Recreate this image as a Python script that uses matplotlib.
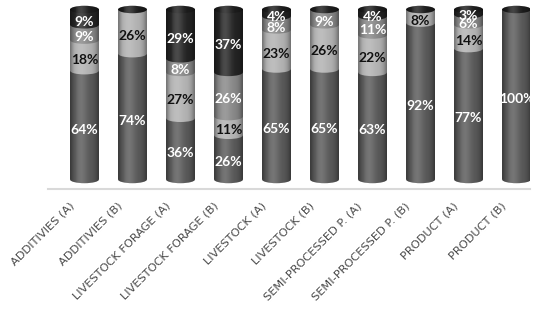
import numpy as np
import matplotlib
matplotlib.use("Agg")
import matplotlib.pyplot as plt
from matplotlib.patches import Ellipse, PathPatch
from matplotlib.path import Path
from matplotlib.transforms import ScaledTranslation

# ----- Data -----
categories = ["ADDITIVIES (A)", "ADDITIVIES (B)", "LIVESTOCK FORAGE (A)",
              "LIVESTOCK FORAGE (B)", "LIVESTOCK (A)", "LIVESTOCK (B)",
              "SEMI-PROCESSED P. (A)", "SEMI-PROCESSED P. (B)",
              "PRODUCT (A)", "PRODUCT (B)"]
s1 = [64, 74, 36, 26, 65, 65, 63, 92, 77, 100]
s2 = [18, 26, 27, 11, 23, 26, 22, 8, 14, 0]
s3 = [9, 0, 8, 26, 8, 9, 11, 0, 6, 0]
s4 = [9, 0, 29, 37, 4, 0, 4, 0, 3, 0]

series = [s1, s2, s3, s4]
colors = ["#585858", "#b0b0b0", "#868686", "#242424"]
text_colors = ["white", "#111111", "white", "white"]
cap_color = "#1c1c1c"

plt.rcParams["font.family"] = ["Lato", "DejaVu Sans"]

# ----- Figure -----
fig = plt.figure(figsize=(5.36, 3.19), dpi=100)
ax = fig.add_axes([48 / 536, 130 / 319, 482 / 536, 188 / 319])
ax.set_xlim(-0.76, 9.28)
ax.set_ylim(-5.6, 105)

w = 0.6        # bar width
eh = 4.4       # ellipse height (data units)
x = np.arange(len(categories))

# shading strip for the cylinder look
n = 64
u = np.linspace(-1, 1, n)
shade = 0.18 * np.exp(-((u + 0.25) / 0.45) ** 2) - 0.4 * np.abs(u) ** 4
grad = np.zeros((1, n, 4))
grad[0, :, :3] = np.where(shade[:, None] > 0, 1.0, 0.0)
grad[0, :, 3] = np.clip(np.abs(shade), 0, 1)

for i in range(len(categories)):
    bottom = 0
    z = 2
    for k, s in enumerate(series):
        v = s[i]
        if v == 0:
            continue
        ax.bar(x[i], v, w, bottom=bottom, color=colors[k], linewidth=0, zorder=z)
        ax.add_patch(Ellipse((x[i], bottom), w, eh, color=colors[k], lw=0, zorder=z))
        ax.text(x[i], bottom + v / 2 - 2.6, f"{v}%", ha="center", va="center",
                fontsize=10, fontweight="bold", color=text_colors[k], zorder=20)
        bottom += v
        z += 1
    ax.add_patch(Ellipse((x[i], bottom), w, eh, color=cap_color, lw=0, zorder=z))

    # cylinder outline used to clip the shading
    t = np.linspace(np.pi, 0, 40)
    top_x = x[i] + w / 2 * np.cos(t)
    top_y = bottom + eh / 2 * np.sin(t)
    t2 = np.linspace(0, -np.pi, 40)
    bot_x = x[i] + w / 2 * np.cos(t2)
    bot_y = eh / 2 * np.sin(t2)
    verts = np.concatenate([np.c_[top_x, top_y], np.c_[bot_x, bot_y]])
    outline = PathPatch(Path(np.vstack([verts, verts[:1]]), closed=True),
                        transform=ax.transData, facecolor="none", edgecolor="none")
    ax.add_patch(outline)
    im = ax.imshow(grad, extent=[x[i] - w / 2, x[i] + w / 2, -eh, bottom + eh],
                   aspect="auto", zorder=15, interpolation="bilinear")
    im.set_clip_path(outline)

# ----- Axes styling -----
for side in ["top", "right", "left"]:
    ax.spines[side].set_visible(False)
ax.spines["bottom"].set_color("#d9d9d9")
ax.spines["bottom"].set_linewidth(1.5)
ax.set_yticks([])
ax.set_xticks(x)
ax.set_xticklabels(categories, rotation=45, ha="right", va="center",
                   rotation_mode="anchor", fontsize=8.2, color="#484848")
for lab in ax.get_xticklabels():
    lab.set_fontfamily("DejaVu Sans")
ax.tick_params(axis="x", length=0, pad=11)
offset = ScaledTranslation(-12 / 100, 0, fig.dpi_scale_trans)
for lab in ax.get_xticklabels():
    lab.set_transform(lab.get_transform() + offset)

fig.savefig("out.png", dpi=100)
